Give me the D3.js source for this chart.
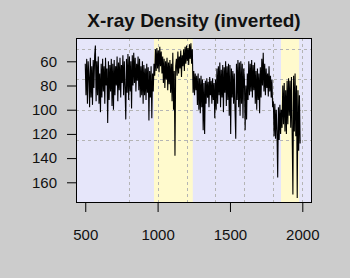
<!DOCTYPE html>
<html><head><meta charset="utf-8">
<script src="https://cdn.jsdelivr.net/npm/d3@7"></script>
<style>html,body{margin:0;padding:0;background:#cccccc;}svg{display:block;font-family:"Liberation Sans",Arial,sans-serif;}</style>
</head><body>
<svg id="c" width="350" height="278"></svg>
<script>
const title = "X-ray Density (inverted)";
const startYear = 500, stepYears = 5;
const density = [
 62,88,58,95,60,72,98,57,90,64,96,59,82,55,47,93,60,88,56,95,
 70,102,62,90,58,85,64,95,57,80,66,111,60,92,63,85,58,97,62,100,
 59,88,64,80,56,93,61,84,57,90,63,78,55,88,60,82,108,58,86,54,
 92,56,85,60,99,55,80,53,78,57,85,62,76,56,84,58,90,64,88,60,
 95,63,88,66,92,62,86,65,109,68,90,64,107,70,85,62,72,50,68,49,
 66,51,69,48,64,52,70,56,78,58,82,60,75,57,84,61,79,59,86,62,
 93,53,100,68,138,64,58,72,52,70,56,66,51,73,55,64,50,68,48,62,
 47,60,49,63,46,58,45,62,50,86,68,88,70,84,72,96,70,100,74,103,
 72,98,75,117,78,120,76,95,74,90,77,98,73,88,76,95,74,92,78,107,
 75,100,66,95,64,88,61,98,67,90,63,102,65,86,60,97,64,92,62,105,
 63,120,66,90,68,95,70,100,124,62,92,59,98,61,105,60,95,62,107,66,
 75,117,80,108,70,92,60,88,62,85,59,90,63,84,61,95,68,100,66,92,
 70,103,65,90,58,80,53,85,62,88,66,82,70,89,64,85,72,90,75,98,
 93,122,95,124,100,118,156,98,125,96,120,100,115,80,112,78,118,84,120,76,
 112,74,105,76,115,73,120,170,72,118,70,122,80,173,84,134,88,128
];
const series = density.map((v,i)=>({year:startYear+i*stepYears, value:v}));
const xTicks = [500,1000,1500,2000];
const yTicks = [60,80,100,120,140,160];
const xGrid = [800,1000,1200,1400,1600,1800,2000];
const yGrid = [50,75,100,125];
const bands = [[975,1243],[1853,1978]];

const svg = d3.select("#c");
const L=76, R=312, T=38, B=203;
const x = d3.scaleLinear().domain([436,2067]).range([L,R]);
const y = d3.scaleLinear().domain([40.74,177.1]).range([T,B]);

svg.append("rect").attr("x",L).attr("y",T).attr("width",R-L).attr("height",B-T).attr("fill","#e6e6fa");
svg.selectAll("rect.band").data(bands).enter().append("rect").attr("class","band")
  .attr("x",d=>x(d[0])).attr("y",T).attr("width",d=>x(d[1])-x(d[0])).attr("height",B-T).attr("fill","#fffacd");

const g = svg.append("g");
g.selectAll("line.vg").data(xGrid).enter().append("line")
  .attr("x1",d=>Math.round(x(d))+0.5).attr("x2",d=>Math.round(x(d))+0.5).attr("y1",T).attr("y2",B)
  .attr("stroke","#b4b4b4").attr("stroke-dasharray","3,3");
g.selectAll("line.hg").data(yGrid).enter().append("line")
  .attr("y1",d=>Math.round(y(d))+0.5).attr("y2",d=>Math.round(y(d))+0.5).attr("x1",L).attr("x2",R)
  .attr("stroke","#b4b4b4").attr("stroke-dasharray","3,3");

const line = d3.line().x(d=>x(d.year)).y(d=>y(d.value));
svg.append("path").datum(series).attr("d",line).attr("fill","none").attr("stroke","#000").attr("stroke-width",1.1);

svg.append("rect").attr("x",L+0.5).attr("y",T+0.5).attr("width",R-L-1).attr("height",B-T-1)
  .attr("fill","none").attr("stroke","#000");

const xa = svg.append("g").attr("transform",`translate(0,${B})`)
  .call(d3.axisBottom(x).tickValues(xTicks).tickFormat(d3.format("d")).tickSize(9).tickPadding(17).tickSizeOuter(0));
xa.select(".domain").remove();
const ya = svg.append("g").attr("transform",`translate(${L},0)`)
  .call(d3.axisLeft(y).tickValues(yTicks).tickFormat(d3.format("d")).tickSize(9).tickPadding(10).tickSizeOuter(0));
ya.select(".domain").remove();
svg.selectAll(".tick text").attr("font-size","15px").attr("fill","#111").attr("font-family","Liberation Sans, Arial, sans-serif");
svg.selectAll(".tick line").attr("stroke","#000");

svg.append("text").attr("x",(L+R)/2).attr("y",27).attr("text-anchor","middle")
  .attr("font-size","19px").attr("font-weight","bold").attr("fill","#111").text(title);
</script>
</body></html>
